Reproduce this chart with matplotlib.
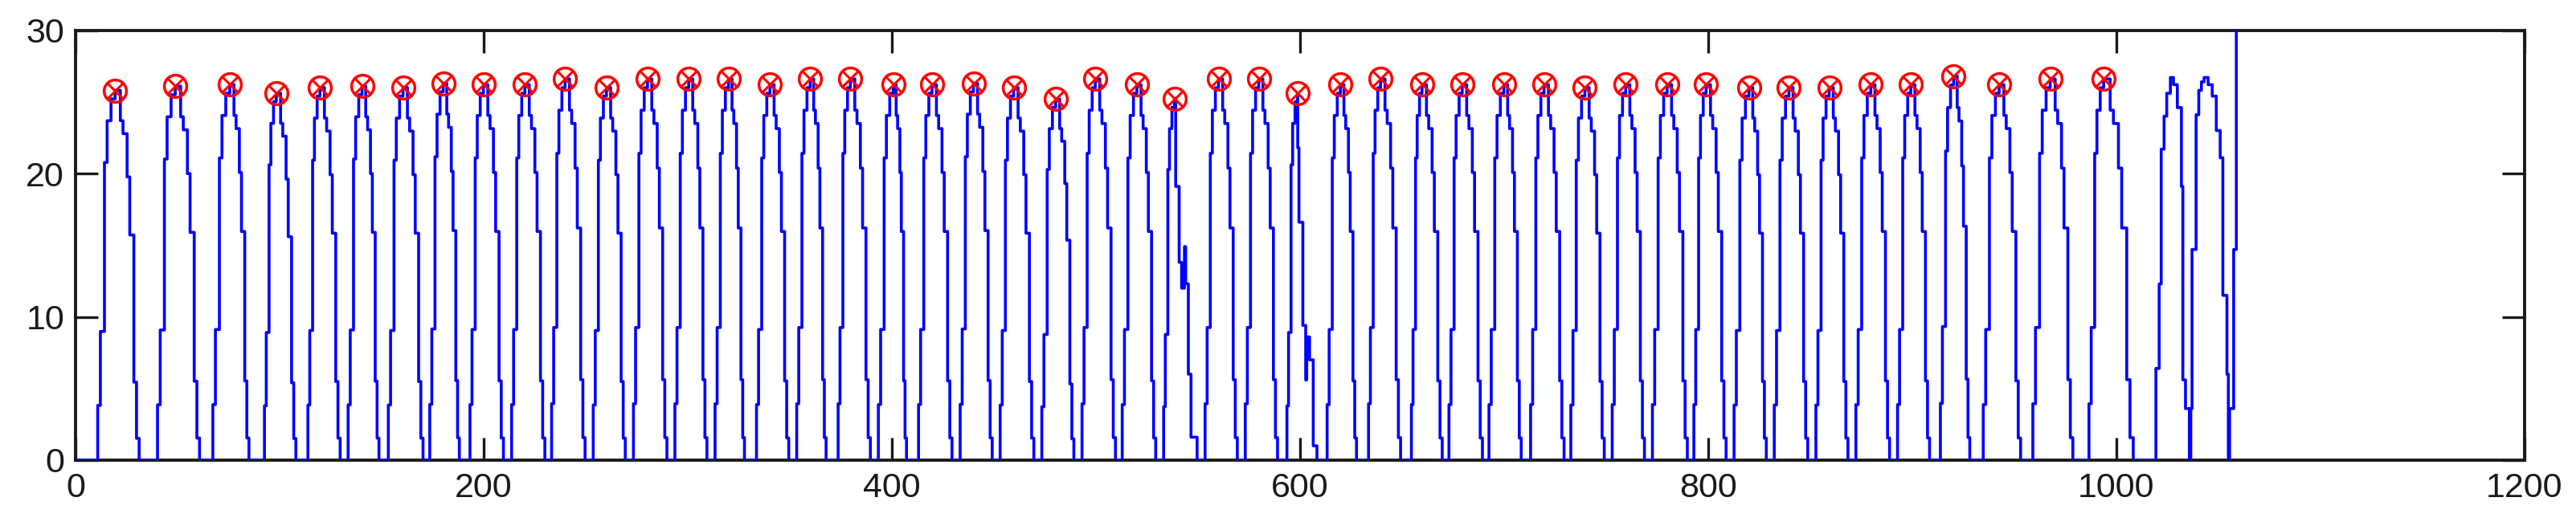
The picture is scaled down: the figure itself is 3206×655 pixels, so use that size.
import matplotlib
matplotlib.use("Agg")
import matplotlib.pyplot as plt

plt.rcParams['font.family'] = ['Liberation Sans', 'DejaVu Sans']

# pulses (x of rise start, peak, end of fall; peak height)
PULSE_START = [10.9, 40.2, 67.3, 92.6, 113.9, 133.6, 153.3, 173.6, 193.3, 213.7,
               233.3, 253.7, 273.4, 293.7, 313.4, 333.7, 353.4, 373.7, 393.4, 413.1,
               433.5, 453.1, 473.5, 493.2, 512.9, 533.2, 553.5, 573.2, 593.6, 613.3,
               633.6, 654.6, 673.0, 692.6, 713.0, 732.7, 753.0, 772.7, 793.0, 812.7,
               832.4, 852.8, 872.4, 892.8, 913.8, 934.8, 959.1, 986.6]
PEAK_X = [19.4, 48.9, 75.6, 98.4, 119.8, 140.4, 160.5, 180.2, 199.9, 220.2,
          239.9, 260.2, 280.3, 300.5, 320.0, 340.3, 360.0, 379.7, 400.7, 419.7,
          440.0, 459.7, 480.3, 499.7, 520.1, 538.5, 560.1, 579.8, 598.8, 619.8,
          639.5, 659.8, 679.5, 699.9, 719.6, 739.6, 759.6, 779.9, 799.0, 820.0,
          839.6, 859.3, 879.7, 899.3, 920.3, 942.6, 967.6, 993.8]
PEAK_Y = [25.8, 26.1, 26.2, 25.6, 26.0, 26.1, 26.0, 26.3, 26.2, 26.2,
          26.6, 26.0, 26.6, 26.6, 26.6, 26.2, 26.6, 26.6, 26.2, 26.2,
          26.3, 26.0, 25.2, 26.6, 26.2, 25.2, 26.6, 26.6, 25.6, 26.2,
          26.6, 26.2, 26.2, 26.2, 26.2, 26.0, 26.2, 26.2, 26.2, 26.0,
          26.0, 26.0, 26.2, 26.2, 26.8, 26.2, 26.6, 26.6]
PULSE_END = [31.2, 60.8, 85.0, 108.0, 129.7, 148.7, 170.3, 188.1, 209.7, 230.0,
             249.7, 269.4, 289.8, 309.4, 327.8, 349.5, 367.8, 389.5, 407.2, 429.5,
             449.2, 469.6, 489.2, 509.6, 529.3, 549.6, 569.3, 589.0, 609.3, 627.7,
             649.3, 669.7, 689.4, 708.4, 729.4, 749.1, 768.8, 789.8, 808.8, 828.5,
             848.8, 868.5, 888.9, 908.5, 928.2, 953.1, 978.7, 1008.3]

# staircase shape of one pulse (first pulse), as fractions of rise / fall and peak
RISE_XF = [0.0, 0.153, 0.388, 0.541, 0.765, 1.0]
RISE_LF = [0.148, 0.348, 0.805, 0.918, 0.977, 1.0]
FALL_XF = [0.22, 0.33, 0.5, 0.61, 0.78, 0.89, 1.0]
FALL_LF = [0.918, 0.883, 0.766, 0.609, 0.211, 0.059, 0.0]

# pulses with a glitch on the falling edge
GLITCH_A_X = [539.1, 540.8, 542.0, 543.4, 544.0, 545.3, 546.6, 549.6]
GLITCH_A_Y = [19.1, 13.8, 12.0, 14.9, 12.3, 6.0, 1.6, 0.0]
GLITCH_B_X = [598.9, 599.5, 601.4, 602.8, 603.3, 604.7, 606.5, 608.3]
GLITCH_B_Y = [21.8, 16.6, 9.4, 5.6, 8.6, 7.0, 1.0, 0.0]

# last two unmarked pulses and the final jump
TAIL_X = [1019.4, 1021.0, 1022.0, 1023.4, 1024.7, 1026.5, 1028.0, 1029.9, 1031.9, 1032.6,
          1033.9, 1035.8, 1036.5, 1037.1, 1039.1, 1040.4, 1041.7, 1043.0, 1045.0, 1047.0,
          1049.0, 1050.9, 1052.2, 1054.2, 1054.9, 1055.5, 1057.5, 1058.8]
TAIL_Y = [6.4, 12.3, 21.7, 24.0, 25.6, 26.7, 26.2, 24.6, 19.1, 5.6,
          3.6, 0.0, 3.6, 14.7, 24.1, 25.8, 26.4, 26.7, 26.2, 25.4,
          23.0, 21.1, 11.5, 6.0, 0.0, 3.6, 14.7, 40.0]

xs, ys = [0.0], [0.0]
for i in range(len(PEAK_X)):
    s, px, py, e = PULSE_START[i], PEAK_X[i], PEAK_Y[i], PULSE_END[i]
    for f, lv in zip(RISE_XF, RISE_LF):
        xs.append(s + f * (px - s))
        ys.append(lv * py)
    if i == 25:
        xs += GLITCH_A_X
        ys += GLITCH_A_Y
    elif i == 28:
        xs += GLITCH_B_X
        ys += GLITCH_B_Y
    else:
        for f, lv in zip(FALL_XF, FALL_LF):
            xs.append(px + f * (e - px))
            ys.append(lv * py)
xs += TAIL_X
ys += TAIL_Y

fig = plt.figure(figsize=(32.06, 6.55), dpi=100)
ax = fig.add_axes([0.0293, 0.1252, 0.9507, 0.8174])

ax.plot(xs, ys, color="#0000ff", lw=2.6, drawstyle="steps-post", zorder=3)
ax.plot(PEAK_X, PEAK_Y, "o", ms=20, mfc="none", mec="#ff0000", mew=2.5, zorder=4)
ax.plot(PEAK_X, PEAK_Y, "x", ms=14, mec="#ff0000", mew=2.2, zorder=4)

ax.set_xlim(0, 1200)
ax.set_ylim(0, 30)
ax.set_xticks([0, 200, 400, 600, 800, 1000, 1200])
ax.set_yticks([0, 10, 20, 30])
ax.tick_params(direction="in", length=20, width=2.4, labelsize=31,
               top=True, right=True, colors="#1a1a1a")
ax.tick_params(axis="x", pad=11)
ax.tick_params(axis="y", pad=10)
for sp in ax.spines.values():
    sp.set_linewidth(2.8)
    sp.set_color("#1a1a1a")

fig.savefig("out.png", dpi=100)
